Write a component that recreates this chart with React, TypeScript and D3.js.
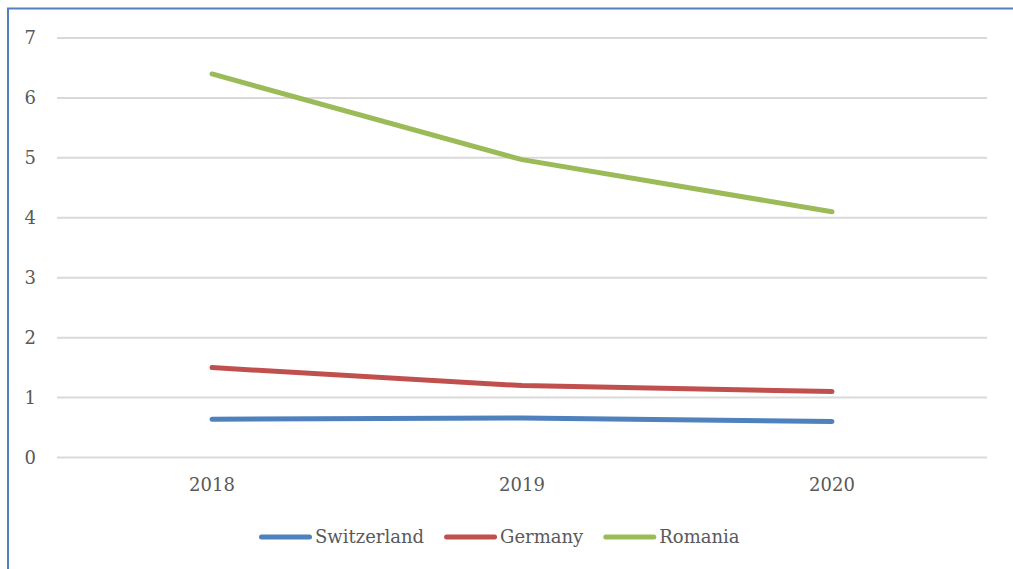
import React, { useEffect, useRef } from 'react';
import * as d3 from 'd3';

const years = ['2018', '2019', '2020'];
const seriesNames = ['Switzerland', 'Germany', 'Romania'];
const switzerland = [0.64, 0.66, 0.6];
const germany = [1.5, 1.2, 1.1];
const romania = [6.4, 4.97, 4.1];
const yTicks = [0, 1, 2, 3, 4, 5, 6, 7];

const colors = ['#4f81bd', '#c0504d', '#9bbb59'];

const App = () => {
  const svgRef = useRef<SVGSVGElement>(null);

  useEffect(() => {
    const width = 1013;
    const height = 569;
    const margin = { top: 38, right: 26, bottom: 111, left: 57 };
    const font = '"DejaVu Serif"';

    const svg = d3.select(svgRef.current);
    svg.selectAll('*').remove();
    svg.attr('width', width).attr('height', height);

    // outer frame, right and bottom edges fall outside the picture
    svg.append('rect')
      .attr('x', 8)
      .attr('y', 8.5)
      .attr('width', width + 20)
      .attr('height', height + 20)
      .attr('fill', 'white')
      .attr('stroke', '#4f81bd')
      .attr('stroke-width', 2);

    const x = d3.scaleBand()
      .domain(years)
      .range([margin.left, width - margin.right])
      .paddingInner(0)
      .paddingOuter(0);

    const y = d3.scaleLinear()
      .domain([0, 7])
      .range([height - margin.bottom - 0.5, margin.top]);

    // horizontal grid
    svg.append('g')
      .selectAll('line')
      .data(yTicks)
      .join('line')
      .attr('x1', margin.left)
      .attr('x2', width - margin.right)
      .attr('y1', d => y(d))
      .attr('y2', d => y(d))
      .attr('stroke', '#d9d9d9')
      .attr('stroke-width', 2);

    // y labels
    svg.append('g')
      .selectAll('text')
      .data(yTicks)
      .join('text')
      .attr('x', 36)
      .attr('y', d => y(d))
      .attr('dy', '0.35em')
      .attr('text-anchor', 'end')
      .style('font-family', font)
      .style('font-size', '18px')
      .attr('fill', '#595959')
      .text(d => d);

    // x labels
    svg.append('g')
      .selectAll('text')
      .data(years)
      .join('text')
      .attr('x', d => x(d)! + x.bandwidth() / 2)
      .attr('y', 485)
      .attr('dy', '0.35em')
      .attr('text-anchor', 'middle')
      .style('font-family', font)
      .style('font-size', '18px')
      .attr('fill', '#595959')
      .text(d => d);

    const series = [switzerland, germany, romania];

    const line = d3.line<number>()
      .x((d, i) => x(years[i])! + x.bandwidth() / 2)
      .y(d => y(d));

    svg.append('g')
      .selectAll('path')
      .data(series)
      .join('path')
      .attr('d', d => line(d))
      .attr('fill', 'none')
      .attr('stroke', (d, i) => colors[i])
      .attr('stroke-width', 5)
      .attr('stroke-linecap', 'round')
      .attr('stroke-linejoin', 'round');

    // legend
    const legend = svg.append('g');
    let lx = 259;
    const ly = 537;
    seriesNames.forEach((name, i) => {
      legend.append('line')
        .attr('x1', lx + 2.5)
        .attr('x2', lx + 50.5)
        .attr('y1', ly)
        .attr('y2', ly)
        .attr('stroke', colors[i])
        .attr('stroke-width', 5)
        .attr('stroke-linecap', 'round');
      const t = legend.append('text')
        .attr('x', lx + 56)
        .attr('y', ly)
        .attr('dy', '0.35em')
        .style('font-family', font)
        .style('font-size', '18px')
        .attr('fill', '#595959')
        .text(name);
      const w = (t.node() as SVGTextElement).getComputedTextLength();
      lx = lx + 56 + w + 20;
    });
  }, []);

  return (
    <svg ref={svgRef} style={{ position: 'absolute', left: 0, top: 0 }}></svg>
  );
};

export default App;
